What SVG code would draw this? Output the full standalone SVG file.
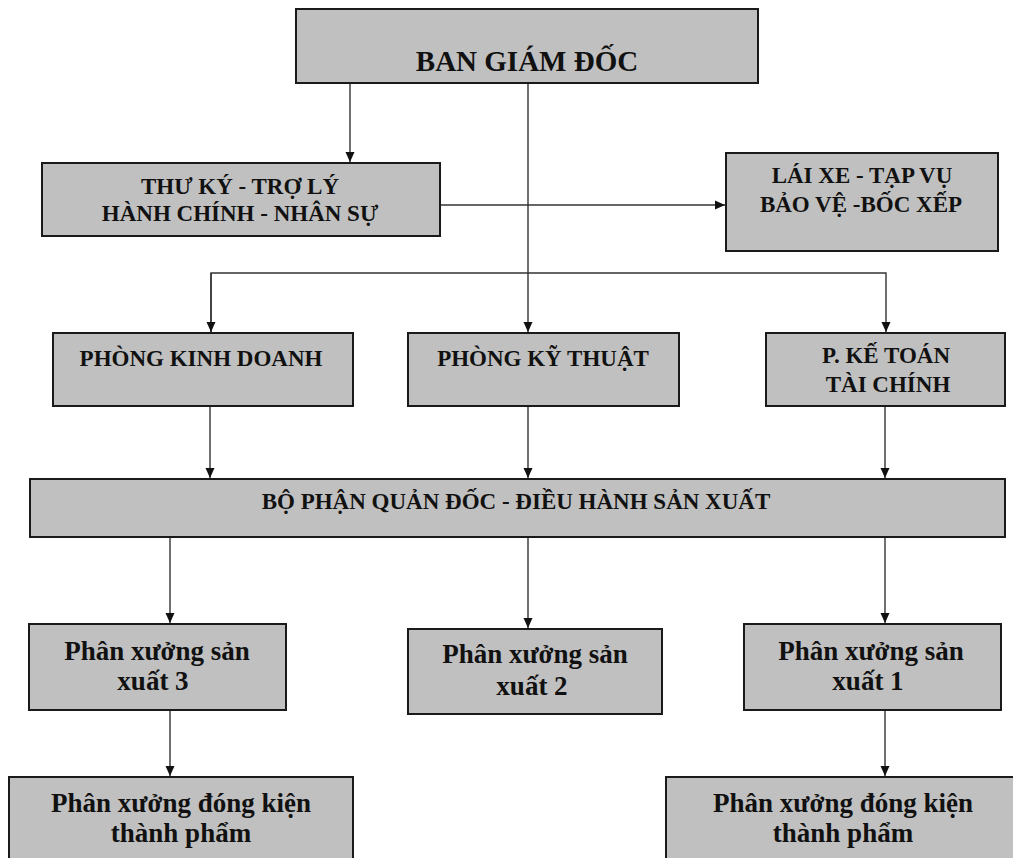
<svg xmlns="http://www.w3.org/2000/svg" width="1013" height="858" viewBox="0 0 1013 858">
<style>
.box{fill:#c0c0c0;stroke:#1a1a1a;stroke-width:2}
.t{font-family:"Liberation Serif","Times New Roman",serif;font-weight:bold;fill:#111;text-anchor:middle}
.c{font-size:23px}
.p{font-size:27px}
.big{font-size:29px}
.ln{fill:none;stroke:#333;stroke-width:1.4}
</style>
<defs>
<marker id="ah" markerUnits="userSpaceOnUse" markerWidth="10" markerHeight="10" refX="10" refY="5" orient="auto">
<path d="M0,0.5 L10,5 L0,9.5 z" fill="#111"/>
</marker>
</defs>
<rect width="1013" height="858" fill="#fff"/>
<g id="connectors">
<line class="ln" x1="350" y1="83" x2="350" y2="162" marker-end="url(#ah)"/>
<line class="ln" x1="528" y1="83" x2="528" y2="332" marker-end="url(#ah)"/>
<line class="ln" x1="440" y1="205" x2="725" y2="205" marker-end="url(#ah)"/>
<polyline class="ln" points="211,332 211,273 886,273 886,332" marker-end="url(#ah)"/>
<line class="ln" x1="211" y1="273" x2="211" y2="332" marker-end="url(#ah)"/>
<line class="ln" x1="210" y1="406" x2="210" y2="478" marker-end="url(#ah)"/>
<line class="ln" x1="528" y1="406" x2="528" y2="478" marker-end="url(#ah)"/>
<line class="ln" x1="885" y1="406" x2="885" y2="478" marker-end="url(#ah)"/>
<line class="ln" x1="170" y1="537" x2="170" y2="623" marker-end="url(#ah)"/>
<line class="ln" x1="528" y1="537" x2="528" y2="628" marker-end="url(#ah)"/>
<line class="ln" x1="885" y1="537" x2="885" y2="623" marker-end="url(#ah)"/>
<line class="ln" x1="170" y1="710" x2="170" y2="776" marker-end="url(#ah)"/>
<line class="ln" x1="885" y1="710" x2="885" y2="776" marker-end="url(#ah)"/>
</g>
<g id="ban-giam-doc">
<rect class="box" x="296" y="9" width="462" height="74"/>
<text class="t big" x="527" y="71">BAN GIÁM ĐỐC</text>
</g>
<g id="thu-ky">
<rect class="box" x="42" y="163" width="398" height="73"/>
<text class="t c" x="240" y="194">THƯ KÝ - TRỢ LÝ</text>
<text class="t c" x="240" y="221">HÀNH CHÍNH - NHÂN SỰ</text>
</g>
<g id="lai-xe">
<rect class="box" x="726" y="153" width="272" height="98"/>
<text class="t c" x="862" y="183">LÁI XE - TẠP VỤ</text>
<text class="t c" x="861" y="212">BẢO VỆ -BỐC XẾP</text>
</g>
<g id="phong-kinh-doanh">
<rect class="box" x="53" y="333" width="300" height="73"/>
<text class="t c" x="201" y="366">PHÒNG KINH DOANH</text>
</g>
<g id="phong-ky-thuat">
<rect class="box" x="408" y="333" width="271" height="73"/>
<text class="t c" x="543" y="366">PHÒNG KỸ THUẬT</text>
</g>
<g id="ke-toan">
<rect class="box" x="766" y="333" width="239" height="73"/>
<text class="t c" x="886" y="363">P. KẾ TOÁN</text>
<text class="t c" x="888" y="392">TÀI CHÍNH</text>
</g>
<g id="bo-phan-quan-doc">
<rect class="box" x="30" y="479" width="975" height="58"/>
<text class="t c" x="516" y="509">BỘ PHẬN QUẢN ĐỐC - ĐIỀU HÀNH SẢN XUẤT</text>
</g>
<g id="px3">
<rect class="box" x="29" y="624" width="257" height="86"/>
<text class="t p" x="157" y="660">Phân xưởng sản</text>
<text class="t p" x="153" y="690">xuất 3</text>
</g>
<g id="px2">
<rect class="box" x="408" y="629" width="254" height="85"/>
<text class="t p" x="535" y="663">Phân xưởng sản</text>
<text class="t p" x="532" y="695">xuất 2</text>
</g>
<g id="px1">
<rect class="box" x="744" y="624" width="257" height="86"/>
<text class="t p" x="871" y="660">Phân xưởng sản</text>
<text class="t p" x="868" y="690">xuất 1</text>
</g>
<g id="dong-kien-trai">
<rect class="box" x="9" y="777" width="344" height="95"/>
<text class="t p" x="181" y="812">Phân xưởng đóng kiện</text>
<text class="t p" x="181" y="842">thành phẩm</text>
</g>
<g id="dong-kien-phai">
<rect class="box" x="666" y="777" width="354" height="95"/>
<text class="t p" x="843" y="812">Phân xưởng đóng kiện</text>
<text class="t p" x="843" y="842">thành phẩm</text>
</g>
</svg>
